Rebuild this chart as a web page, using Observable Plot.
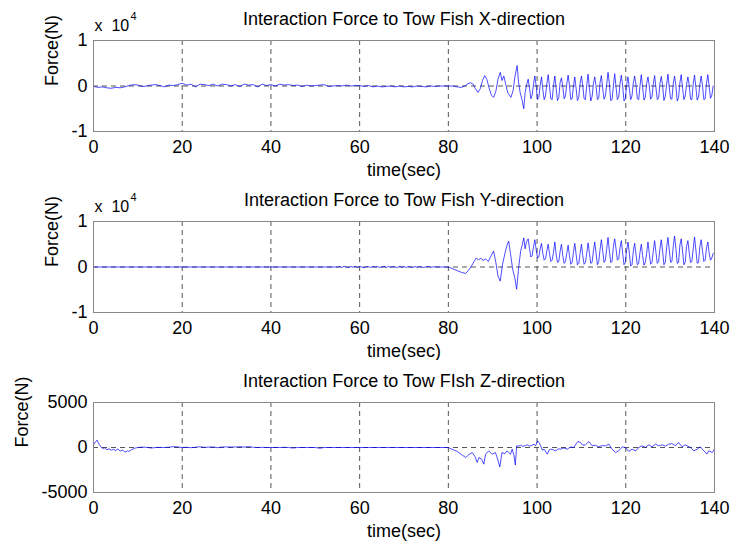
<!DOCTYPE html>
<html><head><meta charset="utf-8">
<script src="https://cdn.jsdelivr.net/npm/d3@7"></script>
<script src="https://cdn.jsdelivr.net/npm/@observablehq/plot@0.6"></script>
<style>
body{margin:0;background:#fff;}
#chart{width:731px;height:545px;overflow:hidden;}
#chart svg{display:block;}
</style>
</head><body><div id="chart"></div>
<script>
// ---------- text ----------
const titles = [
  "Interaction Force to Tow Fish X-direction",
  "Interaction Force to Tow Fish Y-direction",
  "Interaction Force to Tow FIsh Z-direction"
];
const xLabel = "time(sec)";
const yLabel = "Force(N)";
const xTicks = [0, 20, 40, 60, 80, 100, 120, 140];
const gridTicks = [20, 40, 60, 80, 100, 120];
const yTicksXY = [-1, 0, 1];          // x 10^4
const yTicksZ = [-5000, 0, 5000];

// ---------- X-direction (x 10^4 N) ----------
const xQuietStart = 0, xQuietStep = 1;
const xQuiet = [
  -0.01, -0.03, -0.02, -0.04, -0.05, -0.03, -0.04, -0.02, 0.01, 0.03,
  0.02, -0.01, 0.0, 0.02, 0.03, 0.01, -0.02, 0.02, 0.01, 0.03,
  0.06, 0.02, 0.04, -0.02, 0.04, 0.03, 0.01, 0.04, 0.0, 0.04,
  0.03, 0.0, 0.03, -0.01, 0.04, 0.02, 0.03, -0.02, 0.04, 0.01,
  0.03, 0.0, 0.04, 0.02, 0.03, 0.01, 0.02, -0.01, 0.02, 0.0,
  0.01, 0.02, 0.03, -0.01, 0.0, 0.01, 0.0, 0.02, 0.0, 0.01,
  0.01, -0.01, 0.01, -0.02, 0.0, -0.02, -0.01, 0.0, -0.02, 0.0,
  -0.02, -0.01, -0.02, 0.0, -0.01, -0.02, 0.0, -0.01, 0.0, 0.0
];
const xTransition = [
  [80, 0], [81, 0.0], [82, -0.02], [83, -0.03], [83.7, 0.0], [84.4, 0.05], [85, 0.07],
  [85.6, 0.04], [86.1, -0.06], [86.7, -0.14], [87.2, -0.06], [87.7, 0.12], [88.2, 0.23],
  [88.7, 0.14], [89.2, -0.05], [89.7, -0.2], [90.2, -0.25], [90.7, -0.12], [91.2, 0.15],
  [91.7, 0.3], [92.1, 0.12], [92.5, 0.22], [92.9, 0.05], [93.4, -0.15], [94.1, -0.25],
  [94.6, -0.1], [95.0, 0.2], [95.5, 0.45], [95.8, 0.1], [96.2, -0.15], [96.6, -0.3],
  [97.0, -0.5], [97.3, -0.15], [97.7, 0.05]
];
const xOscStart = 98, xOscStep = 0.3;
const xOsc = [
  0.15, -0.05, -0.28, -0.2, 0.05,
  0.22, 0.0, -0.3, -0.25, 0.02,
  0.2, -0.08, -0.3, -0.22, 0.05,
  0.25, 0.0, -0.28, -0.3, 0.0,
  0.22, -0.05, -0.32, -0.25, 0.08,
  0.18, -0.02, -0.28, -0.22, 0.05,
  0.24, 0.02, -0.3, -0.28, 0.0,
  0.2, -0.05, -0.32, -0.25, 0.06,
  0.22, 0.0, -0.28, -0.3, 0.02,
  0.26, -0.04, -0.33, -0.24, 0.05,
  0.2, 0.0, -0.3, -0.27, 0.08,
  0.23, -0.06, -0.29, -0.22, 0.04,
  0.3, 0.05, -0.32, -0.3, 0.0,
  0.27, -0.02, -0.3, -0.25, 0.06,
  0.24, 0.0, -0.33, -0.28, 0.03,
  0.2, -0.05, -0.3, -0.22, 0.07,
  0.22, 0.02, -0.28, -0.3, 0.0,
  0.25, -0.03, -0.31, -0.25, 0.05,
  0.2, 0.0, -0.29, -0.24, 0.04,
  0.23, -0.04, -0.3, -0.27, 0.06,
  0.21, 0.01, -0.32, -0.23, 0.02,
  0.26, -0.02, -0.28, -0.29, 0.05,
  0.22, 0.0, -0.33, -0.25, 0.07,
  0.25, -0.05, -0.3, -0.22, 0.03,
  0.2, 0.02, -0.29, -0.3, 0.05,
  0.24, -0.03, -0.31, -0.24, 0.04,
  0.22, 0.0, -0.3, -0.28, 0.06,
  0.25, -0.02, -0.27, -0.2, 0.0
];

// ---------- Y-direction (x 10^4 N) ----------
const yFlat = [[0, 0], [55, 0]];
const yQuietStart = 55.5, yQuietStep = 0.5;
const yQuiet = [
  0.01, -0.01, 0.015, 0.0, -0.01, 0.01, -0.005, 0.015, -0.01, 0.01,
  0.0, -0.015, 0.01, 0.005, -0.01, 0.015, -0.005, 0.01, -0.01, 0.0,
  0.015, -0.01, 0.01, -0.005, 0.01, 0.0, -0.01, 0.015, -0.005, 0.01,
  -0.01, 0.01, 0.0, -0.01, 0.01, -0.005, 0.01, 0.0, -0.01, 0.005,
  0.01, -0.005, 0.0, 0.005, 0.0, 0.0, 0.0, 0.0, 0.0
];
const yTransition = [
  [80, 0], [81, -0.04], [82, -0.08], [83, -0.12], [83.9, -0.14], [84.5, -0.08], [85.2, 0.02],
  [85.8, 0.12], [86.3, 0.2], [86.8, 0.15], [87.3, 0.2], [87.8, 0.14], [88.4, 0.18], [89.0, 0.12],
  [89.5, 0.22], [90.2, 0.35], [90.7, 0.1], [91.2, -0.2], [91.7, -0.31], [92.2, 0.05], [92.8, 0.32],
  [93.3, 0.5], [93.6, 0.57], [94.0, 0.3], [94.5, -0.05], [95.0, -0.25], [95.4, -0.49], [95.8, -0.05],
  [96.3, 0.35], [96.7, 0.5], [97.0, 0.64], [97.3, 0.4], [97.6, 0.55]
];
const yOscStart = 98, yOscStep = 0.3;
const yOsc = [
  0.62, 0.4, 0.22, 0.25, 0.45,
  0.6, 0.38, 0.2, 0.22, 0.4,
  0.52, 0.3, 0.15, 0.18, 0.35,
  0.5, 0.3, 0.12, 0.15, 0.32,
  0.55, 0.28, 0.1, 0.12, 0.35,
  0.5, 0.25, 0.08, 0.12, 0.3,
  0.48, 0.25, 0.06, 0.1, 0.32,
  0.52, 0.28, 0.05, 0.08, 0.3,
  0.5, 0.25, 0.06, 0.1, 0.3,
  0.53, 0.3, 0.08, 0.1, 0.35,
  0.55, 0.3, 0.05, 0.12, 0.38,
  0.6, 0.35, 0.1, 0.15, 0.4,
  0.65, 0.35, 0.1, 0.12, 0.45,
  0.62, 0.4, 0.15, 0.18, 0.42,
  0.58, 0.3, 0.05, 0.1, 0.38,
  0.55, 0.3, 0.02, 0.05, 0.35,
  0.52, 0.28, 0.05, 0.08, 0.32,
  0.5, 0.25, 0.04, 0.1, 0.3,
  0.55, 0.3, 0.06, 0.1, 0.35,
  0.58, 0.32, 0.08, 0.12, 0.4,
  0.6, 0.35, 0.05, 0.1, 0.42,
  0.65, 0.38, 0.1, 0.12, 0.45,
  0.68, 0.4, 0.08, 0.1, 0.48,
  0.62, 0.35, 0.05, 0.1, 0.45,
  0.58, 0.32, 0.1, 0.12, 0.4,
  0.66, 0.38, 0.08, 0.1, 0.45,
  0.6, 0.35, 0.12, 0.15, 0.42,
  0.55, 0.3, 0.15, 0.2, 0.3
];

// ---------- Z-direction (N) ----------
const zStartPairs = [
  [0, 300], [0.4, 600], [0.8, 820], [1.2, 400], [1.6, 100], [2, -100], [2.5, -50], [3, -250],
  [3.5, -150], [4, -300], [4.5, -200], [5, -350], [5.5, -150], [6, -400], [6.5, -300], [7, -450],
  [7.3, -500], [7.7, -350], [8, -450], [8.5, -250], [9, -150], [9.5, -50]
];
const zQuietStart = 10, zQuietStep = 1;
const zQuiet = [
  0, 40, 20, -60, 0, 10, 0, 30, 100, 60,
  0, 20, -20, 30, 80, 20, 40, 60, -20, 50,
  70, 40, 60, 80, 50, 90, 30, 0, 20, 0,
  0, 10, 0, 20, 0, -60, 0, 0, 0, 0,
  0, -80, 0, 0, 0, 0, 0, 0, 0, 0,
  0, 0, 0, 0, 0, 0, 0, 0, 0, 0,
  0, 0, 0, 0, 0, 0, 0, 0, 0, 0, 0
];
const zLatePairs = [
  [80.6, -150], [82.0, -440], [83.0, -800], [83.9, -1110], [84.6, -800], [85.4, -555], [86.0, -1000],
  [86.5, -1665], [86.9, -1110], [87.5, -1300], [88.0, -1850], [88.4, -740], [89.1, -370],
  [89.9, -740], [90.6, -555], [91.0, -1110], [91.6, -2150], [92.1, -555], [92.7, -700],
  [93.2, -370], [94.0, -740], [94.4, -185], [94.8, -900], [95.1, -1950], [95.4, 185],
  [95.8, 150], [96.3, 250], [96.8, 120], [97.3, 200], [97.8, 300], [98.3, 150], [98.8, 250],
  [99.3, 350], [99.7, 200], [100.1, 740], [100.5, 500], [100.8, 185], [101.2, -300], [101.6, -185],
  [102.3, -740], [102.7, -300], [103.1, -185], [103.6, -250], [104.2, -370], [104.8, -150],
  [105.3, -185], [106.0, -50], [106.8, -185], [107.5, 50], [108.3, 0], [108.8, 400], [109.2, 660],
  [109.8, 555], [110.3, 250], [110.9, 300], [111.7, 660], [112.4, 185], [113.1, 250], [113.9, 75],
  [114.6, 200], [115.4, 185], [116.2, 370], [116.9, -185], [117.7, -555], [118.4, -370],
  [119.2, 75], [119.9, 0], [120.7, -440], [121.4, -185], [122.2, -370], [122.9, 0], [123.7, 185],
  [124.4, 0], [125.2, 300], [125.9, 75], [126.7, 370], [127.4, 185], [128.2, 300], [128.9, 150],
  [129.7, 370], [130.4, 440], [131.2, 185], [131.9, 555], [132.7, 75], [133.4, 300], [134.0, 150],
  [134.6, 0], [135.3, -370], [136.1, -185], [136.8, 75], [137.6, -370], [138.3, -740],
  [138.7, -370], [139.5, -555], [140.0, -185]
];

// ---------- build tables ----------
const sampled = (start, step, values) => values.map((v, i) => ({t: +(start + i * step).toFixed(3), v}));
const fromPairs = arr => arr.map(([t, v]) => ({t, v}));

const seriesX = [...sampled(xQuietStart, xQuietStep, xQuiet), ...fromPairs(xTransition).slice(1), ...sampled(xOscStart, xOscStep, xOsc)];
const seriesY = [...fromPairs(yFlat), ...sampled(yQuietStart, yQuietStep, yQuiet), ...fromPairs(yTransition), ...sampled(yOscStart, yOscStep, yOsc)];
const seriesZ = [...fromPairs(zStartPairs), ...sampled(zQuietStart, zQuietStep, zQuiet), ...fromPairs(zLatePairs)];

const FONT = "'Liberation Sans', Arial, Helvetica, sans-serif";
const BLUE = "#0000ff";

function panel({data, title, yDomain, yTicks, height, marginTop, marginBottom, ylabelDx, exponent}) {
  const marks = [
    Plot.ruleX(gridTicks, {stroke: "#555", strokeWidth: 1, strokeDasharray: "5,4"}),
    Plot.ruleY([0], {stroke: "#555", strokeWidth: 1, strokeDasharray: "5,4"}),
    Plot.lineY(data, {x: "t", y: "v", stroke: BLUE, strokeWidth: 0.7}),
    Plot.frame({stroke: "#888", strokeWidth: 1}),
    Plot.axisX(xTicks, {tickSize: 0, tickPadding: 9, fontSize: 18, fill: "#000", label: null, tickFormat: d => String(d)}),
    Plot.axisY(yTicks, {tickSize: 0, tickPadding: 6, fontSize: 18, fill: "#000", label: null, tickFormat: d => String(d)}),
    Plot.text([title], {text: d => d, frameAnchor: "top", dy: -21, fontSize: 18, fill: "#000", lineAnchor: "middle"}),
    Plot.text([xLabel], {text: d => d, frameAnchor: "bottom", dy: 39, fontSize: 18, fill: "#000", lineAnchor: "middle"}),
    Plot.text([yLabel], {text: d => d, frameAnchor: "left", dx: ylabelDx, rotate: -90, fontSize: 18, fill: "#000", lineAnchor: "middle"})
  ];
  if (exponent) {
    marks.push(Plot.text(["x\u00a0\u00a010"], {text: d => d, frameAnchor: "top-left", textAnchor: "start", dx: 1, dy: -15, fontSize: 16, fill: "#000", lineAnchor: "middle"}));
    marks.push(Plot.text([exponent], {text: d => d, frameAnchor: "top-left", textAnchor: "start", dx: 37, dy: -24, fontSize: 11, fill: "#000", lineAnchor: "middle"}));
  }
  return Plot.plot({
    width: 731, height, marginLeft: 93, marginRight: 17, marginTop, marginBottom,
    style: {fontFamily: FONT, fontSize: "18px", background: "#fff", color: "#000"},
    x: {domain: [0, 140]},
    y: {domain: yDomain},
    marks
  });
}

const chart = document.getElementById("chart");
chart.append(panel({data: seriesX, title: titles[0], yDomain: [-1, 1], yTicks: yTicksXY, height: 180, marginTop: 40, marginBottom: 49, ylabelDx: -41, exponent: "4"}));
chart.append(panel({data: seriesY, title: titles[1], yDomain: [-1, 1], yTicks: yTicksXY, height: 180, marginTop: 41, marginBottom: 48, ylabelDx: -41, exponent: "4"}));
chart.append(panel({data: seriesZ, title: titles[2], yDomain: [-5000, 5000], yTicks: yTicksZ, height: 185, marginTop: 42, marginBottom: 53, ylabelDx: -71}));
</script>
</body></html>
